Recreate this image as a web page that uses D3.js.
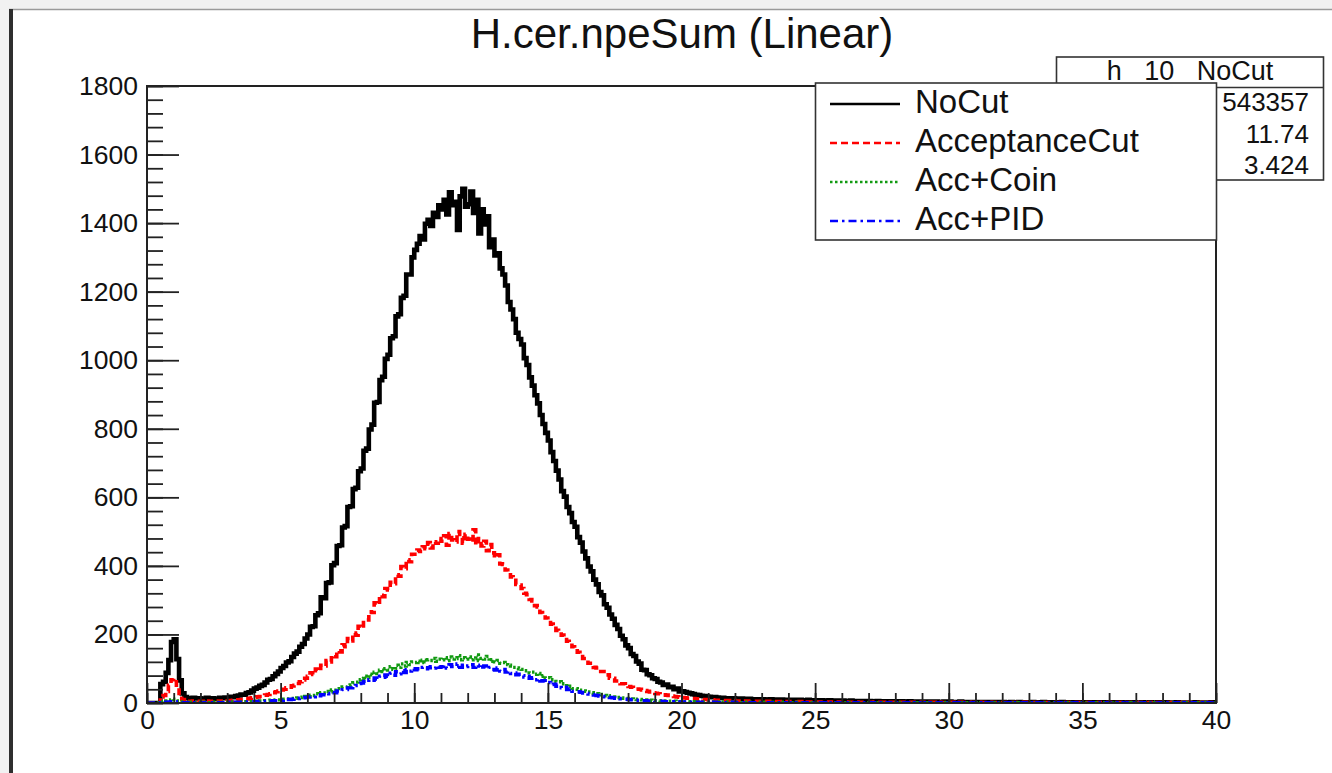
<!DOCTYPE html>
<html>
<head>
<meta charset="utf-8">
<script src="https://cdn.jsdelivr.net/npm/d3@7"></script>
<style>
  html, body { margin: 0; padding: 0; background: #f1f1f1; }
  svg { display: block; font-family: "Liberation Sans", Arial, sans-serif; }
</style>
</head>
<body>
<svg id="chart" width="1332" height="773"></svg>
<script>
// histogram bins: 0.1 wide, 0 .. 40
const binWidth = 0.1;

const noCut = [
  0,0,0,0,0,55,62,88,125,178, 186,128,66,28,17,14,12,15,13,14,
  11,13,15,12,14,13,12,15,14,16, 16,18,17,20,22,25,24,29,31,36,
  42,45,50,53,60,68,70,78,85,92, 102,108,118,122,134,144,150,164,172,188,
  200,222,224,256,262,308,306,350,352,402, 408,458,460,512,516,572,574,624,628,676,
  684,736,742,798,812,876,878,942,952,1004, 1016,1064,1070,1128,1134,1182,1188,1250,1250,1300,
  1322,1340,1362,1352,1398,1410,1392,1430,1418,1452, 1440,1468,1425,1490,1452,1462,1380,1478,1500,1448,
  1455,1492,1430,1468,1370,1440,1396,1420,1330,1352, 1306,1312,1268,1250,1218,1170,1148,1120,1080,1062,
  1046,1006,986,950,926,898,874,840,814,788, 766,732,706,678,652,618,602,572,554,528,
  514,484,468,442,422,398,384,360,346,324, 314,288,278,258,246,228,216,196,186,168,
  160,143,137,121,115,97,96,84,81,72, 70,62,60,53,54,46,47,40,42,34,
  34,32,30,28,26,24,23,21,20,19, 18,17,17,16,15,15,14,14,13,14,
  13,12,13,12,11,12,11,11,10,11, 11,10,10,11,9,10,9,10,9,9,
  9,8,9,8,9,8,8,9,7,8, 8,7,8,7,7,8,6,7,7,6,
  7,6,6,7,6,5,6,6,5,6, 6,5,5,6,5,5,4,5,5,4,
  5,4,5,4,4,5,4,4,3,4, 4,4,3,4,3,4,3,3,4,3,
  4,3,3,3,4,3,3,2,3,3, 3,2,3,3,2,3,2,3,2,3,
  3,2,2,3,2,2,3,2,2,2, 2,3,2,2,2,3,2,2,1,2,
  2,2,3,2,2,1,2,2,2,1, 2,2,1,2,1,2,2,1,2,1,
  1,2,2,1,2,1,1,2,1,2, 1,1,2,1,1,2,1,1,2,1,
  1,2,1,1,1,2,1,1,1,1, 1,1,2,1,1,1,1,1,2,1
];

const acceptanceCut = [
  0,0,0,0,0,18,22,34,52,68, 71,44,22,10,6,5,4,6,5,4,
  5,4,6,5,4,5,6,5,6,5, 6,7,8,8,9,10,11,12,14,15,
  16,18,19,22,23,25,27,30,33,35, 38,40,44,46,50,52,57,62,67,72,
  78,88,83,99,94,110,108,124,120,138, 135,152,149,170,164,188,181,204,198,224,
  219,242,242,266,264,292,288,314,310,334, 330,352,348,374,370,398,392,418,412,434,
  434,446,442,456,450,468,452,470,466,480, 472,488,460,494,476,470,500,482,466,492,
  478,470,505,462,480,458,472,444,462,438, 424,432,406,404,388,382,368,364,346,344,
  334,320,316,302,298,284,280,264,260,248, 242,230,224,212,210,198,194,180,176,164,
  158,148,144,130,130,116,116,104,102,92, 92,82,82,72,72,64,64,56,56,49,
  48,46,43,41,40,38,36,34,32,30, 28,27,25,24,23,22,20,19,18,17,
  16,15,14,14,13,12,11,11,10,10, 9,9,8,8,8,7,7,7,6,7,
  6,6,6,5,6,5,5,5,5,4, 5,4,5,4,4,4,4,3,4,4,
  3,4,3,3,4,3,3,3,3,3, 3,3,2,3,3,2,3,2,3,2,
  2,3,2,2,2,3,2,2,2,2, 2,2,3,2,2,2,1,2,2,2,
  2,1,2,2,1,2,2,1,2,2, 1,2,1,2,2,1,2,1,1,2,
  1,2,1,1,2,1,1,2,1,1, 1,2,1,1,1,2,1,1,1,1,
  1,1,2,1,1,1,1,1,2,1, 1,1,1,0,1,1,1,1,1,1,
  1,0,1,1,1,1,0,1,1,1, 1,1,0,1,1,0,1,1,1,0,
  1,1,0,1,1,1,0,1,0,1, 1,1,0,1,0,1,1,0,1,1,
  0,1,1,0,1,0,1,1,0,1, 0,1,1,0,1,0,1,0,1,1
];

const accCoin = [
  0,0,0,0,0,3,5,6,9,11, 10,6,3,2,1,1,2,1,1,2,
  1,2,1,1,2,1,2,2,1,2, 2,2,3,2,3,3,3,4,4,4,
  5,5,6,6,7,7,8,8,9,9, 10,11,11,12,13,14,15,16,17,19,
  20,23,22,27,25,30,29,34,33,38, 37,42,42,47,47,52,53,59,61,68,
  72,78,74,84,82,90,86,96,92,100, 96,106,98,110,104,114,108,118,112,120,
  118,122,118,125,120,126,124,130,122,128, 126,132,124,134,128,130,138,126,132,128,
  134,126,130,140,124,130,128,136,122,126, 120,124,116,118,112,110,108,104,102,100,
  98,94,94,88,90,84,86,78,80,73, 74,68,68,62,62,56,56,48,49,42,
  42,40,37,35,34,32,30,28,27,25, 24,22,21,19,18,17,16,15,14,13,
  12,12,11,10,10,9,9,8,8,7, 7,7,6,6,6,5,5,5,4,4,
  4,4,4,3,4,3,3,3,3,3, 3,3,2,3,2,2,3,2,2,2,
  2,2,1,2,2,1,2,1,2,1, 1,2,1,1,2,1,1,1,2,1,
  1,1,1,2,1,1,1,1,1,1, 0,1,1,1,1,0,1,1,1,1,
  1,0,1,1,0,1,1,1,0,1, 1,0,1,0,1,1,0,1,0,1,
  0,1,1,0,1,0,1,0,1,1, 0,1,0,0,1,0,1,0,1,0,
  1,0,0,1,0,1,0,1,0,0, 1,0,1,0,0,1,0,1,0,0,
  1,0,1,0,0,1,0,0,1,0, 1,0,0,1,0,0,1,0,1,0,
  0,1,0,0,1,0,1,0,0,1, 0,0,1,0,1,0,0,1,0,0,
  1,0,0,1,0,0,1,0,1,0, 0,1,0,0,1,0,0,1,0,0,
  1,0,0,1,0,0,1,0,0,1, 0,0,1,0,0,1,0,0,1,0
];

const accPID = [
  0,0,0,0,0,1,1,2,3,4, 4,2,1,1,1,1,0,1,1,1,
  1,0,1,1,1,1,0,1,1,1, 2,2,1,2,2,2,3,3,3,3,
  4,4,5,5,5,6,6,7,7,8, 8,9,10,10,11,12,13,14,15,16,
  17,19,18,22,21,24,24,28,27,31, 30,35,34,39,39,44,44,50,51,57,
  58,63,61,68,66,73,70,78,75,82, 78,87,81,91,85,94,89,97,93,100,
  97,100,98,104,100,103,106,102,108,104, 106,110,102,112,106,108,114,104,110,106,
  108,112,104,110,102,105,108,100,104,98, 96,102,93,98,90,92,86,88,82,84,
  80,76,78,72,74,68,70,64,65,59, 60,54,55,49,51,44,46,39,41,34,
  34,33,31,29,28,26,25,23,22,20, 19,18,17,16,15,14,13,12,11,11,
  10,9,9,8,8,7,7,6,6,6, 5,5,5,4,4,4,4,3,3,3,
  3,3,3,2,3,2,2,2,2,2, 2,1,2,1,1,2,1,1,1,2,
  1,1,1,1,2,1,1,1,1,1, 1,1,1,0,1,1,1,1,0,1,
  1,1,0,1,1,0,1,1,1,0, 1,1,0,1,0,1,1,0,1,0,
  1,1,0,1,0,1,0,1,1,0, 1,0,1,0,1,0,0,1,0,1,
  0,1,0,0,1,0,1,0,1,0, 0,1,0,1,0,0,1,0,1,0,
  0,1,0,1,0,0,1,0,0,1, 0,1,0,0,1,0,0,1,0,1,
  0,0,1,0,0,1,0,0,1,0, 1,0,0,1,0,0,1,0,0,1,
  0,1,0,0,1,0,0,1,0,0, 1,0,0,1,0,0,1,0,0,1,
  0,0,1,0,1,0,0,1,0,0, 1,0,0,1,0,0,1,0,0,1,
  0,0,1,0,0,1,0,0,1,0, 0,1,0,0,1,0,0,1,0,0
];

const seriesNames = ["NoCut", "AcceptanceCut", "Acc+Coin", "Acc+PID"];
const xTickLabels = [0, 5, 10, 15, 20, 25, 30, 35, 40];
const yTickLabels = [0, 200, 400, 600, 800, 1000, 1200, 1400, 1600, 1800];
const statsTitle = "h   10   NoCut";
const statsValues = ["543357", "11.74", "3.424"];

const allSeries = [noCut, acceptanceCut, accCoin, accPID];
allSeries.forEach((s, i) => {
  if (s.length !== 400) throw new Error(seriesNames[i] + " has " + s.length + " bins");
});

const styles = [
  { color: "#000000", width: 4.6, dash: null },
  { color: "#ff0000", width: 3.6, dash: "7 4" },
  { color: "#119a11", width: 3.4, dash: "2.5 2.5" },
  { color: "#0000ff", width: 3.4, dash: "8 4 2.5 4" }
];
const legendWidths = [2.6, 2.4, 2.4, 2.4];

const svg = d3.select("#chart");

// pad (canvas) background and its border
svg.append("rect").attr("x", 11).attr("y", 10).attr("width", 1321).attr("height", 763).attr("fill", "#ffffff");
svg.append("line").attr("x1", 9).attr("x2", 1332).attr("y1", 9.5).attr("y2", 9.5)
  .attr("stroke", "#9a9a9a").attr("stroke-width", 1.5);
svg.append("rect").attr("x", 9).attr("y", 9).attr("width", 4).attr("height", 764).attr("fill", "#2e2e2e");

const m = { left: 147, right: 1216, top: 86, bottom: 703 };
const x = d3.scaleLinear().domain([0, 40]).range([m.left, m.right]);
const y = d3.scaleLinear().domain([0, 1800]).range([m.bottom, m.top]);

// title
svg.append("text").attr("x", 682).attr("y", 48).attr("text-anchor", "middle")
  .attr("font-size", 42).attr("fill", "#111").text("H.cer.npeSum (Linear)");

// clip for the histograms
svg.append("defs").append("clipPath").attr("id", "frameClip")
  .append("rect").attr("x", m.left).attr("y", m.top)
  .attr("width", m.right - m.left).attr("height", m.bottom - m.top);

const line = d3.line()
  .x(d => x(d[0]))
  .y(d => y(d[1]))
  .curve(d3.curveStepAfter);

function histPoints(vals) {
  const pts = vals.map((v, i) => [i * binWidth, v]);
  pts.push([vals.length * binWidth, vals[vals.length - 1]]);
  return pts;
}

const plot = svg.append("g").attr("clip-path", "url(#frameClip)");
allSeries.forEach((s, i) => {
  const st = styles[i];
  plot.append("path")
    .attr("d", line(histPoints(s)))
    .attr("fill", "none")
    .attr("stroke", st.color)
    .attr("stroke-width", st.width)
    .attr("stroke-linejoin", "miter")
    .attr("stroke-dasharray", st.dash);
});

// axes
function styleAxis(g) {
  g.select(".domain").remove();
  g.selectAll(".tick line").attr("stroke", "#222").attr("stroke-width", 1.8);
  g.selectAll(".tick text").attr("font-size", 26.5).attr("fill", "#111")
    .attr("font-family", "Liberation Sans, Arial, sans-serif");
}

svg.append("g").attr("transform", `translate(${m.left},0)`)
  .call(d3.axisLeft(y).tickValues(d3.range(0, 1801, 40)).tickSize(-16).tickFormat(""))
  .call(styleAxis);
svg.append("g").attr("transform", `translate(${m.left},0)`)
  .call(d3.axisLeft(y).tickValues(yTickLabels).tickSize(-32).tickPadding(9).tickFormat(d3.format("d")))
  .call(styleAxis);

svg.append("g").attr("transform", `translate(0,${m.bottom})`)
  .call(d3.axisBottom(x).tickValues(d3.range(0, 41, 1)).tickSize(-10).tickFormat(""))
  .call(styleAxis);
svg.append("g").attr("transform", `translate(0,${m.bottom})`)
  .call(d3.axisBottom(x).tickValues(xTickLabels).tickSize(-20).tickPadding(7).tickFormat(d3.format("d")))
  .call(styleAxis);

// frame
svg.append("rect").attr("x", m.left).attr("y", m.top)
  .attr("width", m.right - m.left).attr("height", m.bottom - m.top)
  .attr("fill", "none").attr("stroke", "#222").attr("stroke-width", 2);

// stats box (its row names sit under the legend, as in the original)
const stats = svg.append("g");
stats.append("rect").attr("x", 1056.5).attr("y", 57).attr("width", 267).attr("height", 123)
  .attr("fill", "#fff").attr("stroke", "#333").attr("stroke-width", 1.6);
stats.append("line").attr("x1", 1056.5).attr("x2", 1323.5).attr("y1", 87.5).attr("y2", 87.5)
  .attr("stroke", "#333").attr("stroke-width", 1.6);
stats.append("text").attr("x", 1190).attr("y", 80).attr("text-anchor", "middle")
  .attr("font-size", 27).attr("fill", "#111").style("white-space", "pre").text(statsTitle);
statsValues.forEach((v, i) => {
  stats.append("text").attr("x", 1309).attr("y", [111, 143, 174][i]).attr("text-anchor", "end")
    .attr("font-size", 26).attr("fill", "#111").text(v);
});

// legend
const leg = svg.append("g");
leg.append("rect").attr("x", 815.5).attr("y", 83).attr("width", 401).attr("height", 157)
  .attr("fill", "#fff").attr("stroke", "#333").attr("stroke-width", 1.6);
seriesNames.forEach((name, i) => {
  const cy = 101 + i * 39;
  const st = styles[i];
  leg.append("line").attr("x1", 830).attr("x2", 900).attr("y1", cy + 3).attr("y2", cy + 3)
    .attr("stroke", st.color).attr("stroke-width", legendWidths[i]).attr("stroke-dasharray", st.dash);
  leg.append("text").attr("x", 915).attr("y", cy).attr("dy", "0.35em")
    .attr("font-size", 33).attr("fill", "#111").text(name);
});
</script>
</body>
</html>
